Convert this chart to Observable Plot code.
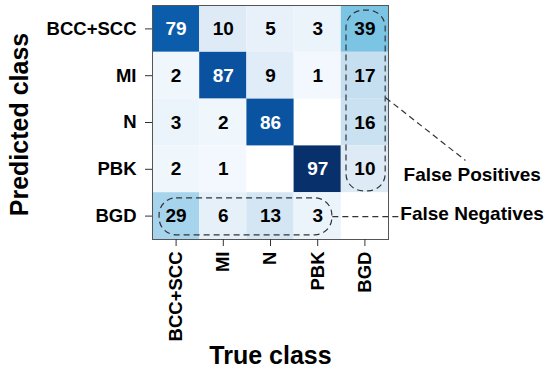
<!DOCTYPE html>
<html>
<head>
<meta charset="utf-8">
<script src="https://cdn.jsdelivr.net/npm/d3@7"></script>
<script src="https://cdn.jsdelivr.net/npm/@observablehq/plot@0.6"></script>
<style>
  body { margin: 0; background: #fff; }
  #chart svg text { font-weight: bold; }
</style>
</head>
<body>
<div id="chart"></div>
<script>
// Categories
const predicted = ["BCC+SCC", "MI", "N", "PBK", "BGD"]; // rows
const trueClass = ["BCC+SCC", "MI", "N", "PBK", "BGD"]; // columns
// Confusion matrix values (row = predicted, column = true); null = empty cell
const rowBCC = [79, 10, 5, 3, 39];
const rowMI  = [2, 87, 9, 1, 17];
const rowN   = [3, 2, 86, null, 16];
const rowPBK = [2, 1, null, 97, 10];
const rowBGD = [29, 6, 13, 3, null];
const matrix = [rowBCC, rowMI, rowN, rowPBK, rowBGD];

// Colour stops (value -> colour)
const colorDomain = [0, 1, 3, 10, 17, 29, 39, 79, 87, 97];
const colorRange = ["#ffffff", "#f2f8fd", "#ecf4fb", "#deebf7", "#c6dff0", "#a6d4ec", "#7cc4e4", "#0b5cab", "#0a52a0", "#08306b"];

// Annotations (in cell units)
const boxes = [
  {x1: 4.11, x2: 4.94, y1: 0.11, y2: 3.97},
  {x1: 0.15, x2: 3.81, y1: 4.12, y2: 4.91}
];
const leaders = [
  {x1: 4.94, y1: 1.97, x2: 6.63, y2: 3.31},
  {x1: 3.81, y1: 4.51, x2: 5.21, y2: 4.51}
];
const notes = [
  {x: 5.32, y: 3.63, text: "False Positives"},
  {x: 5.25, y: 4.45, text: "False Negatives"}
];

const cells = [];
matrix.forEach((row, r) => row.forEach((v, c) => {
  cells.push({r, c, v, x1: c, x2: c + 1, y1: r, y2: r + 1, xm: c + 0.5, ym: r + 0.5});
}));
const filled = cells.filter(d => d.v != null);
const centers = d3.range(predicted.length).map(i => i + 0.5);

const chart = Plot.plot({
  width: 550,
  height: 372,
  marginLeft: 152,
  marginRight: 162,
  marginTop: 5,
  marginBottom: 133,
  style: {fontFamily: "'Liberation Sans', Arial, sans-serif", background: "#fff", color: "#000"},
  x: {domain: [0, 5], axis: null},
  y: {domain: [0, 5], reverse: true, axis: null},
  color: {type: "linear", domain: colorDomain, range: colorRange},
  marks: [
    Plot.rect(filled, {x1: "x1", x2: "x2", y1: "y1", y2: "y2", fill: "v"}),
    Plot.text(filled, {x: "xm", y: "ym", text: d => String(d.v), fill: d => d.v >= 79 ? "white" : "black", fontSize: 19, fontWeight: "bold"}),
    Plot.frame({stroke: "#555", strokeWidth: 1}),
    Plot.axisX(centers, {tickFormat: d => trueClass[Math.floor(d)], tickRotate: -90, tickSize: 7, tickPadding: 5, fontSize: 18.5, label: null, stroke: "#333"}),
    Plot.axisY(centers, {tickFormat: d => predicted[Math.floor(d)], tickSize: 7, tickPadding: 9, fontSize: 18.5, label: null, stroke: "#333"}),
    Plot.rect(boxes, {x1: "x1", x2: "x2", y1: "y1", y2: "y2", fill: "none", stroke: "#333", strokeWidth: 1.2, strokeDasharray: "6,4", rx: 17}),
    Plot.link(leaders, {x1: "x1", y1: "y1", x2: "x2", y2: "y2", stroke: "#333", strokeWidth: 1.2, strokeDasharray: "6,4"}),
    Plot.text(notes, {x: "x", y: "y", text: "text", textAnchor: "start", fontSize: 19, fontWeight: "bold"}),
    Plot.text(["Predicted class"], {frameAnchor: "left", textAnchor: "middle", dx: -133, dy: 2, rotate: -90, fontSize: 25, fontWeight: "bold"}),
    Plot.text(["True class"], {frameAnchor: "bottom", dy: 124, fontSize: 25, fontWeight: "bold"})
  ]
});
document.getElementById("chart").append(chart);
</script>
</body>
</html>
